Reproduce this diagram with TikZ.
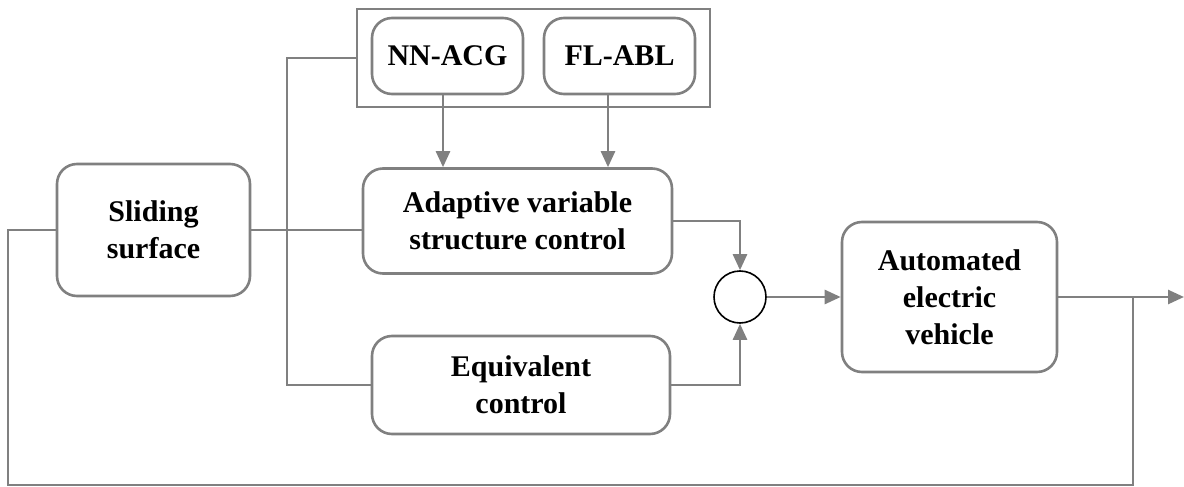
\documentclass[tikz,border=0pt]{standalone}
\usepackage{fontspec}
\setmainfont{Liberation Serif}
\usetikzlibrary{arrows.meta}
\definecolor{lgray}{RGB}{128,128,128}
\begin{document}
\begin{tikzpicture}[x=1pt,y=-1pt,
  blk/.style={draw=lgray, line width=2.6pt, rounded corners=20pt, align=center,
    font=\bfseries\fontsize{30}{37}\selectfont, inner sep=0pt},
  grpbox/.style={draw=lgray, line width=2.6pt, inner sep=0pt},
  wire/.style={draw=lgray, line width=2.6pt},
  arr/.style={wire, -{Triangle[length=16pt,width=14pt]}},
  sumnode/.style={circle, draw=black, line width=1.6pt, minimum size=52pt, inner sep=0pt}
]
\useasboundingbox (0,0) rectangle (1184,487);

\node[grpbox, minimum width=353pt, minimum height=98pt] (grp) at (533.5,58) {};
\node[blk, minimum width=151pt, minimum height=76pt] (nn) at (447.5,56) {NN-ACG};
\node[blk, minimum width=151pt, minimum height=76pt] (fl) at (619.5,56) {FL-ABL};
\node[blk, minimum width=309pt, minimum height=105pt] (adv) at (517.5,221) {Adaptive variable\\structure control};
\node[blk, minimum width=193pt, minimum height=132pt] (sl) at (153.5,230) {Sliding\\surface};
\node[blk, minimum width=298pt, minimum height=98pt] (eq) at (521,385) {Equivalent\\control};
\node[sumnode] (sum) at (740,297) {};
\node[blk, minimum width=215pt, minimum height=150pt] (aev) at (949.5,297) {Automated\\electric\\vehicle};

\coordinate (jx) at (287,200);
\coordinate (out) at (1184,297);
\coordinate (br) at (1133,297);
\coordinate (fbr) at (1133,485);
\coordinate (fbl) at (8,485);

% arrows from group members into adaptive control
\draw[arr] (nn.south -| 443,0) -- (adv.north -| 443,0);
\draw[arr] (fl.south -| 608,0) -- (adv.north -| 608,0);

% sliding surface to adaptive control
\draw[wire] (sl.east) -- (sl.east -| adv.west);

% branch line to group box and equivalent control
\draw[wire] (grp.west) -| (jx) |- (eq.west);

% into summing junction
\draw[arr] (adv.east) -| (sum.north);
\draw[arr] (eq.east) -| (sum.south);

% summing junction to vehicle
\draw[arr] (sum.east) -- (aev.west);

% output
\draw[arr] (aev.east) -- (out);

% feedback
\draw[wire] (br) -- (fbr) -- (fbl) |- (sl.west);
\end{tikzpicture}
\end{document}
